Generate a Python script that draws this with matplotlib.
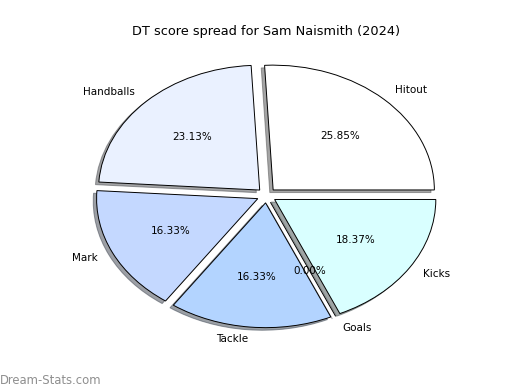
import matplotlib
matplotlib.use("Agg")
import matplotlib.pyplot as plt

# DT score breakdown, counter-clockwise from 3 o'clock
labels = ["Hitout", "Handballs", "Mark", "Tackle", "Goals", "Kicks"]
shares = [25.85, 23.13, 16.33, 16.33, 0.00, 18.37]
colors = ["#ffffff", "#eaf1ff", "#c4d8ff", "#b3d4ff", "#cce0ff", "#d9ffff"]

fig = plt.figure(figsize=(5.2, 3.9), dpi=100)
ax = fig.add_axes([0.125, 0.099, 0.775, 0.8])

ax.pie(shares, labels=labels, colors=colors, autopct="%.2f%%",
       explode=[0.06] * len(shares),
       shadow={"ox": -0.015, "oy": -0.015},
       wedgeprops={"edgecolor": "black", "linewidth": 0.7},
       textprops={"fontsize": 7.5})
ax.set_aspect("auto")
ax.set_title("DT score spread for Sam Naismith (2024)", fontsize=9.3, pad=3.5)

fig.text(0.0, 0.015, "Dream-Stats.com", fontsize=8.4, color="#8f8f8f")

fig.savefig("out.png", dpi=100)
